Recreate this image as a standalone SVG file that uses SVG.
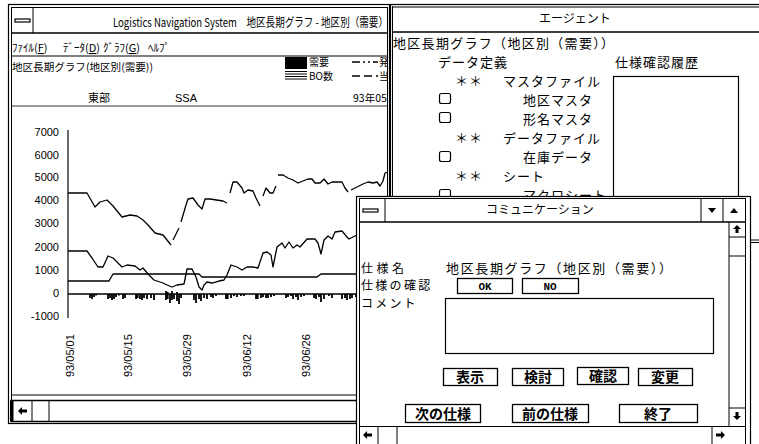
<svg xmlns="http://www.w3.org/2000/svg" width="759" height="444" viewBox="0 0 759 444">
<style>
.bd{fill:none;stroke:#000;stroke-width:1}
.ln{fill:none;stroke:#000;stroke-width:1.3;stroke-linejoin:round}
.jp{font-family:"Noto Sans CJK JP","Noto Sans",sans-serif;fill:#000}
.lat{font-family:"Liberation Sans",Arial,sans-serif;fill:#000}
.s14{font-size:14px}
.s13{font-size:13px;letter-spacing:1px}
.s12{font-size:12px}
.s11{font-size:11px}
.s10{font-size:10px}
.btn{fill:#fff;stroke:#000;stroke-width:1.3}
.bt{font-family:"Noto Sans CJK JP",sans-serif;font-size:14px;font-weight:bold;text-anchor:middle;fill:#000}
.cb{fill:#fff;stroke:#000;stroke-width:1.2}
.ar{fill:#000}
</style>
<defs>
<clipPath id="cm"><rect x="11" y="7" width="377" height="416"/></clipPath>
<clipPath id="ca"><rect x="392" y="5" width="367" height="191"/></clipPath>
</defs>
<rect width="759" height="444" fill="#fff"/>

<g id="main-window">
<rect x="8.5" y="4.5" width="381" height="419" fill="#fff" stroke="#000" stroke-width="1.2"/>
<rect x="11.5" y="7.5" width="376" height="413" class="bd"/>
<line x1="11" y1="33" x2="388" y2="33" stroke="#000" stroke-width="1.5"/>
<line x1="33" y1="8" x2="33" y2="33" stroke="#000"/>
<rect x="15" y="19" width="15" height="3" fill="#fff" stroke="#000" stroke-width="1.2"/>
<g clip-path="url(#cm)">
<text class="jp s12" x="113" y="27" textLength="275" lengthAdjust="spacingAndGlyphs">Logistics Navigation System　地区長期グラフ - 地区別（需要）</text>
<text class="jp s11" x="12" y="52">ﾌｧｲﾙ(<tspan text-decoration="underline">F</tspan>)</text>
<text class="jp s11" x="63" y="52">ﾃﾞｰﾀ(<tspan text-decoration="underline">D</tspan>)</text>
<text class="jp s11" x="103" y="52">ｸﾞﾗﾌ(<tspan text-decoration="underline">G</tspan>)</text>
<text class="jp s11" x="148" y="52">ﾍﾙﾌﾟ</text>
<line x1="11" y1="56" x2="388" y2="56" stroke="#000"/>
<text class="jp" font-size="10.5" x="12" y="71" textLength="141" lengthAdjust="spacingAndGlyphs">地区長期グラフ(地区別(需要))</text>
<g id="legend">
<rect x="285" y="57" width="22" height="12" fill="#000"/>
<path d="M285 71.5H307M285 74H307M285 76.5H307M285 79H307" stroke="#000" stroke-width="1.2"/>
<text class="jp s10" x="309" y="66">需要</text>
<text class="jp s10" x="309" y="80">BO数</text>
<line x1="352" y1="62" x2="378" y2="62" stroke="#000" stroke-width="1.3" stroke-dasharray="8,3,2,3,2,3"/>
<text class="jp s10" x="379" y="66">発</text>
<line x1="352" y1="76" x2="378" y2="76" stroke="#000" stroke-width="1.3" stroke-dasharray="8,4"/>
<text class="jp s10" x="379" y="80">当</text>
</g>
<text class="jp s11" x="88" y="102">東部</text>
<text class="lat s11" x="175" y="102">SSA</text>
<text class="jp" font-size="10.5" x="353" y="102">93年05月</text>
<line x1="11" y1="106" x2="388" y2="106" stroke="#000" stroke-width="0.8"/>

<g id="chart">
<line x1="68" y1="130" x2="68" y2="318" stroke="#000" stroke-width="1.2"/>
<line x1="68" y1="294" x2="388" y2="294" stroke="#000" stroke-width="1.4"/>
<g class="lat s11" text-anchor="end">
<text x="59" y="136">7000</text>
<text x="59" y="159">6000</text>
<text x="59" y="181">5000</text>
<text x="59" y="204">4000</text>
<text x="59" y="227">3000</text>
<text x="59" y="251">2000</text>
<text x="59" y="274">1000</text>
<text x="59" y="297">0</text>
<text x="59" y="320">-1000</text>
</g>
<g class="lat s11">
<text transform="translate(74,377) rotate(-90)">93/05/01</text>
<text transform="translate(132,377) rotate(-90)">93/05/15</text>
<text transform="translate(191,377) rotate(-90)">93/05/29</text>
<text transform="translate(251,377) rotate(-90)">93/06/12</text>
<text transform="translate(310,377) rotate(-90)">93/06/26</text>
</g>
<g class="ln">
<polyline points="68,193 87,193 95,207 100,202 107,200 113,206 122,217 130,215 137,216 143,220 148,225 155,233 163,235 171,245"/>
<polyline points="173,240 179,228"/>
<polyline points="181,222 186,205 188,199 193,198 198,205 202,209 205,199 210,199 223,201 227,203"/>
<polyline points="230,193 233,182 237,182 242,188 244,193 248,190 253,191 256,198 260,206"/>
<polyline points="263,196 266,188 270,193 273,193 276,186"/>
<polyline points="278,175 283,175 288,178 293,180 298,183 303,181 308,179 312,179 315,183 320,183 324,179 328,184 332,182 342,182 345,188 348,192"/>
<polyline points="351,190 357,187 363,184 368,182 373,183 377,182 380,186 383,181 385,173 388,172"/>
<polyline points="68,251 87,251 92,258 98,267 103,267 108,256 113,258 122,267 127,265 135,266 140,270 143,268 148,274 154,280 163,283 167,285 172,287 177,285 184,284 187,269 192,269 196,277 199,287 202,290 204,285 207,282 212,283 219,281 224,280 227,275 231,265 237,267 242,270 247,267 253,267 258,268 263,253 267,252 271,255 273,267 277,247 282,243 285,248 289,242 293,248 297,245 300,247 307,239 315,239 318,243 321,254 324,240 328,236 332,239 335,232 342,231 347,237 349,239 353,237 357,235"/>
<polyline points="68,281 109,281 113,274 199,274 202,277 317,277 321,274 388,274"/>
</g>
<path stroke="#000" stroke-width="1.8" fill="none" d="M90 294v4M92 294v5M94 294v3M96 294v1.5M108 294v5M110 294v4M112 294v6M114 294v5M116 294v3M119 294v1.5M123 294v5M125 294v4M136 294v5M137.7 294v4M140 294v5M142 294v6M144 294v4M147 294v5M151 294v4M154 294v6M166 291v9M167.7 292v7M170 294v9M172 291v9M174 294v5M177 292v9M179 294v10M181 294v4M194 294v6M196 294v9M199 294v5M201 294v7M204 294v4M207 294v5M211 294v3M213 294v4M216 294v2M226 294v5M227.7 294v5M231 294v4M234 294v2M237 294v3M241 294v2M244 294v2M256 294v5M257.7 294v5M261 294v4M263 294v3M266 294v4M268 294v4M271 294v3M274 294v2M286 294v4M288 294v3M291 294v2M293 294v5M296 294v3M298 294v6M301 294v3M304 294v2M314 294v4M316 294v5M319 294v3M321 294v8M324 294v5M329 294v2M332 294v4M342 294v5M345 294v4M347 294v6M350 294v5M352 294v4M356 294v3"/>
</g>
</g>
<line x1="11" y1="395" x2="388" y2="395" stroke="#000" stroke-width="1"/>
<rect x="11" y="400.5" width="377" height="21" fill="#fff" stroke="#000" stroke-width="1.5"/>
<rect x="10" y="401" width="3.5" height="20" fill="#000"/>
<line x1="32" y1="401" x2="32" y2="421" stroke="#000"/>
<line x1="49" y1="401" x2="49" y2="421" stroke="#000"/>
<polygon class="ar" points="18,411 22,407 22,409.5 27,409.5 27,412.5 22,412.5 22,415"/>
</g>

<g id="agent-window">
<rect x="390.5" y="4.5" width="380" height="450" fill="#fff" stroke="#000" stroke-width="1.2"/>
<line x1="392.5" y1="6" x2="392.5" y2="444" stroke="#000"/>
<line x1="392" y1="7" x2="759" y2="7" stroke="#000"/>
<line x1="392" y1="32" x2="759" y2="32" stroke="#000" stroke-width="1.5"/>
<text class="jp s12" x="575" y="23" text-anchor="middle">エージェント</text>
<g clip-path="url(#ca)">
<text class="jp s13" x="393" y="48" textLength="222" lengthAdjust="spacing">地区長期グラフ（地区別（需要））</text>
<text class="jp s13" x="438" y="67">データ定義</text>
<text class="jp s13" x="615" y="67" letter-spacing="1.5">仕様確認履歴</text>
<rect x="613.5" y="76.5" width="125" height="200" fill="#fff" stroke="#000" stroke-width="1.2"/>
<text class="jp s13" x="455" y="86">＊＊</text>
<text class="jp s13" x="503" y="86" letter-spacing="2">マスタファイル</text>
<rect class="cb" x="439.5" y="93.5" width="11" height="10" rx="2"/>
<text class="jp s13" x="523" y="105">地区マスタ</text>
<rect class="cb" x="439.5" y="112.5" width="11" height="10" rx="2"/>
<text class="jp s13" x="523" y="124">形名マスタ</text>
<text class="jp s13" x="455" y="143">＊＊</text>
<text class="jp s13" x="503" y="143" letter-spacing="2">データファイル</text>
<rect class="cb" x="439.5" y="151.5" width="11" height="10" rx="2"/>
<text class="jp s13" x="523" y="162">在庫データ</text>
<text class="jp s13" x="455" y="181">＊＊</text>
<text class="jp s13" x="503" y="181" letter-spacing="2">シート</text>
<rect class="cb" x="439.5" y="189.5" width="11" height="10" rx="2"/>
<text class="jp s13" x="523" y="200">マクロシート</text>
</g>
<path d="M751 240H759M751 242.5H759" stroke="#000" stroke-width="1"/>
</g>

<g id="comm-window">
<rect x="356.5" y="196.5" width="394" height="260" fill="#fff" stroke="#000" stroke-width="1.2"/>
<rect x="359.5" y="198.5" width="386" height="260" class="bd"/>
<line x1="359" y1="222" x2="745" y2="222" stroke="#000" stroke-width="1.5"/>
<line x1="385" y1="199" x2="385" y2="222" stroke="#000"/>
<rect x="363" y="209" width="15" height="3" fill="#fff" stroke="#000" stroke-width="1.2"/>
<line x1="701" y1="199" x2="701" y2="222" stroke="#000"/>
<line x1="723" y1="199" x2="723" y2="222" stroke="#000"/>
<polygon class="ar" points="708,208 716,208 712,213"/>
<polygon class="ar" points="730,213 738,213 734,208"/>
<text class="jp s12" x="540" y="214" text-anchor="middle">コミュニケーション</text>

<line x1="729" y1="222" x2="729" y2="426" stroke="#000"/>
<line x1="729" y1="237" x2="745" y2="237" stroke="#000"/>
<line x1="729" y1="256" x2="745" y2="256" stroke="#000"/>
<line x1="729" y1="408" x2="745" y2="408" stroke="#000"/>
<polygon class="ar" points="737,225 733,229 735.5,229 735.5,233 738.5,233 738.5,229 741,229"/>
<polygon class="ar" points="737,420 733,416 735.5,416 735.5,412 738.5,412 738.5,416 741,416"/>
<line x1="359" y1="426.5" x2="745" y2="426.5" stroke="#000" stroke-width="1.2"/>
<line x1="378" y1="427" x2="378" y2="444" stroke="#000"/>
<line x1="397" y1="427" x2="397" y2="444" stroke="#000"/>
<line x1="712" y1="427" x2="712" y2="444" stroke="#000"/>
<polygon class="ar" points="363,435 367,431 367,433.5 372,433.5 372,436.5 367,436.5 367,439"/>
<polygon class="ar" points="725,435 721,431 721,433.5 716,433.5 716,436.5 721,436.5 721,439"/>

<text class="jp s12" x="361" y="273" letter-spacing="3.5">仕様名</text>
<text class="jp s13" x="446" y="273" textLength="227" lengthAdjust="spacing">地区長期グラフ（地区別（需要））</text>
<text class="jp s12" x="361" y="290" letter-spacing="2.3">仕様の確認</text>
<rect class="btn" x="457.5" y="278.5" width="55" height="15"/>
<text x="485" y="290" text-anchor="middle" font-family="Liberation Mono,monospace" font-size="11" font-weight="bold">OK</text>
<rect class="btn" x="522.5" y="278.5" width="56" height="15"/>
<text x="550" y="290" text-anchor="middle" font-family="Liberation Mono,monospace" font-size="11" font-weight="bold">NO</text>
<text class="jp s12" x="361" y="308" letter-spacing="2.2">コメント</text>
<rect x="445.5" y="298.5" width="268" height="55" fill="#fff" stroke="#000" stroke-width="1.2"/>

<g id="btn-hyouji"><rect class="btn" x="443.5" y="368.5" width="54" height="17"/><text class="bt" x="470" y="382">表示</text></g>
<g id="btn-kentou"><rect class="btn" x="512.5" y="368.5" width="51" height="17"/><text class="bt" x="538" y="382">検討</text></g>
<g id="btn-kakunin"><rect class="btn" x="577.5" y="367.5" width="51" height="17"/><text class="bt" x="603" y="381">確認</text></g>
<g id="btn-henkou"><rect class="btn" x="638.5" y="368.5" width="54" height="17"/><text class="bt" x="665" y="382">変更</text></g>
<g id="btn-next"><rect class="btn" x="405.5" y="404.5" width="75" height="18"/><text class="bt" x="443" y="419">次の仕様</text></g>
<g id="btn-prev"><rect class="btn" x="512.5" y="404.5" width="76" height="18"/><text class="bt" x="550" y="419">前の仕様</text></g>
<g id="btn-end"><rect class="btn" x="619.5" y="404.5" width="78" height="18"/><text class="bt" x="658" y="419">終了</text></g>
</g>
</svg>
